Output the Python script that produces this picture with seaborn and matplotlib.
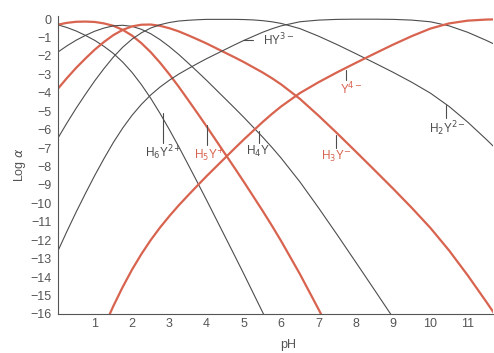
import numpy as np
import pandas as pd
import seaborn as sns
import matplotlib.pyplot as plt

# pH grid and log(alpha) for each EDTA species
ph = [0, 0.25, 0.5, 0.75, 1, 1.25, 1.5, 1.75, 2, 2.25, 2.5, 2.75, 3, 3.25, 3.5, 3.75,
      4, 4.25, 4.5, 4.75, 5, 5.25, 5.5, 5.75, 6,
      6.5, 7, 7.5, 8, 8.5, 9, 9.5, 10, 10.5, 11, 11.5, 12]

h6y = [-0.31, -0.46, -0.65, -0.89, -1.16, -1.49, -1.87, -2.34, -2.90, -3.56, -4.30, -5.12,
       -6.00, -6.92, -7.88, -8.85, -9.83, -10.83, -11.83, -12.83, -13.84, -14.87, -15.90, -16.96,
       None, None, None, None, None, None, None, None, None, None, None, None, None]
h5y = [-0.31, -0.21, -0.15, -0.14, -0.16, -0.24, -0.37, -0.59, -0.90, -1.31, -1.80, -2.37,
       -3.00, -3.67, -4.38, -5.10, -5.83, -6.58, -7.33, -8.08, -8.84, -9.62, -10.40, -11.21,
       -12.05, -13.83, -15.74, -17.70, None, None, None, None, None, None, None, None, None]
h4y = [-1.81, -1.46, -1.15, -0.89, -0.66, -0.49, -0.37, -0.34, -0.40, -0.56, -0.80, -1.12,
       -1.50, -1.92, -2.38, -2.85, -3.33, -3.83, -4.33, -4.83, -5.34, -5.87, -6.40, -6.96,
       -7.55, -8.83, -10.24, -11.70, -13.19, -14.69, -16.20, None, None, None, None, None, None]
h3y = [-3.81, -3.21, -2.65, -2.14, -1.66, -1.24, -0.87, -0.59, -0.40, -0.31, -0.30, -0.37,
       -0.50, -0.67, -0.88, -1.10, -1.33, -1.58, -1.83, -2.08, -2.34, -2.62, -2.90, -3.21,
       -3.55, -4.33, -5.24, -6.20, -7.19, -8.19, -9.20, -10.24, -11.33, -12.55, -13.90, -15.34, -16.82]
h2y = [-6.50, -5.65, -4.84, -4.08, -3.35, -2.68, -2.06, -1.53, -1.09, -0.75, -0.49, -0.31,
       -0.19, -0.11, -0.07, -0.04, -0.02, -0.02, -0.02, -0.02, -0.03, -0.05, -0.09, -0.15,
       -0.24, -0.52, -0.93, -1.39, -1.88, -2.38, -2.89, -3.43, -4.02, -4.74, -5.59, -6.53, -7.51]
hy = [-12.63, -11.53, -10.47, -9.46, -8.48, -7.56, -6.69, -5.91, -5.22, -4.63, -4.12, -3.69,
      -3.32, -2.99, -2.70, -2.42, -2.15, -1.90, -1.65, -1.40, -1.16, -0.94, -0.72, -0.53,
      -0.37, -0.15, -0.06, -0.02, -0.01, -0.01, -0.02, -0.06, -0.15, -0.37, -0.72, -1.16, -1.64]
y4 = [None, None, -20.34, -19.08, -17.85, -16.68, -15.56, -14.53, -13.59, -12.75, -11.99, -11.31,
      -10.69, -10.11, -9.57, -9.04, -8.52, -8.02, -7.52, -7.02, -6.53, -6.06, -5.59, -5.15,
      -4.74, -4.02, -3.43, -2.89, -2.38, -1.88, -1.39, -0.93, -0.52, -0.24, -0.09, -0.03, -0.01]

RED = '#d8634f'
GREY = '#4d4d4d'

species = [
    ('H6Y', h6y, GREY, 0.8),
    ('H5Y', h5y, RED, 1.6),
    ('H4Y', h4y, GREY, 0.8),
    ('H3Y', h3y, RED, 1.6),
    ('H2Y', h2y, GREY, 0.8),
    ('HY', hy, GREY, 0.8),
    ('Y', y4, RED, 1.6),
]

sns.set_style('white')
plt.rcParams['font.family'] = ['Liberation Sans', 'DejaVu Sans']

fig = plt.figure(figsize=(4.94, 3.53), dpi=100)
ax = fig.add_axes([0.1164, 0.1105, 0.8816, 0.8435])

for name, vals, col, lw in species:
    d = pd.DataFrame({'pH': ph, 'loga': vals}).dropna()
    sns.lineplot(data=d, x='pH', y='loga', color=col, lw=lw, ax=ax)

ax.set_xlim(0, 11.68)
ax.set_ylim(-16, 0.15)
ax.set_xticks(range(1, 12))
ax.set_yticks(range(-16, 1))
ax.set_yticklabels([str(v).replace('-', '\u2212') for v in range(-16, 1)])
ax.tick_params(direction='in', length=5, width=0.8, colors='#555555', labelsize=9, pad=3)
ax.tick_params(axis='y', pad=4)
sns.despine(ax=ax)
for s in ['left', 'bottom']:
    ax.spines[s].set_color('#555555')
    ax.spines[s].set_linewidth(0.8)

ax.set_xlabel('pH', fontsize=9, color='#555555', labelpad=2)
ax.xaxis.set_label_coords(0.53, -0.085)
ax.set_ylabel(r'Log $\alpha$', fontsize=9, color='#555555', labelpad=2)

# species labels with pointer lines
labels = [
    (r'H$_6$Y$^{2+}$', GREY, 2.83, -5.1, -6.7, 2.85),
    (r'H$_5$Y$^{+}$', RED, 4.02, -5.75, -6.85, 4.07),
    (r'H$_4$Y', GREY, 5.40, -6.1, -6.7, 5.38),
    (r'H$_3$Y$^{-}$', RED, 7.47, -6.3, -7.0, 7.46),
    (r'H$_2$Y$^{2-}$', GREY, 10.42, -4.66, -5.38, 10.47),
    (r'Y$^{4-}$', RED, 7.75, -2.75, -3.3, 7.87),
]
for txt, col, xp, yt, yb, xt in labels:
    ax.plot([xp, xp], [yt, yb], color=GREY, lw=0.8)
    ax.text(xt, yb - 0.05, txt, color=col, fontsize=8.5, ha='center', va='top')

ax.plot([4.97, 5.25], [-1.13, -1.13], color=GREY, lw=0.8)
ax.text(5.5, -1.13, r'HY$^{3-}$', color=GREY, fontsize=8.5, ha='left', va='center')

fig.savefig('out.png', dpi=100, facecolor='white')
